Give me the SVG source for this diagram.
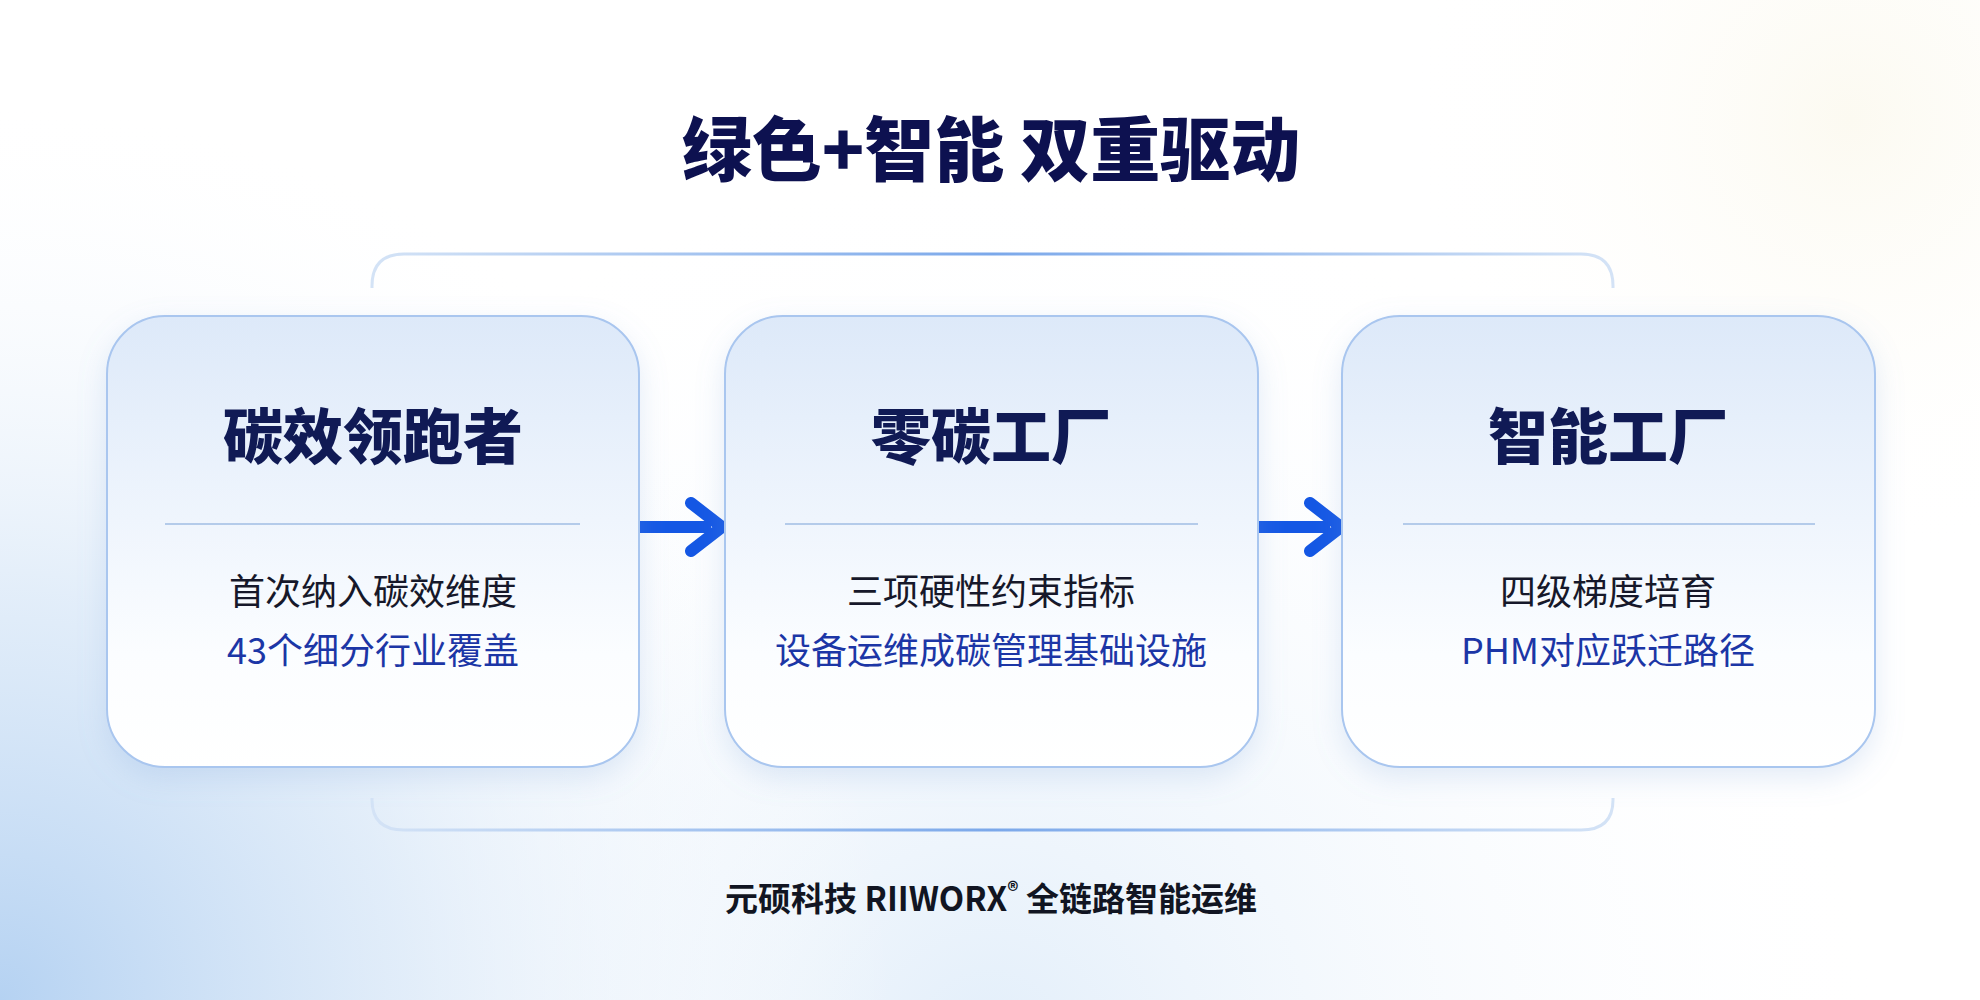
<svg xmlns="http://www.w3.org/2000/svg" width="1980" height="1000" viewBox="0 0 1980 1000">
  <defs>
    <radialGradient id="bgBlue" cx="0" cy="1000" r="900" gradientUnits="userSpaceOnUse">
      <stop offset="0" stop-color="#b5d2f2"/>
      <stop offset="0.45" stop-color="#dbe9f8" stop-opacity="0.8"/>
      <stop offset="1" stop-color="#ffffff" stop-opacity="0"/>
    </radialGradient>
    <radialGradient id="bgBlue2" cx="990" cy="1050" r="900" gradientUnits="userSpaceOnUse">
      <stop offset="0" stop-color="#e2eefa"/>
      <stop offset="1" stop-color="#ffffff" stop-opacity="0"/>
    </radialGradient>
    <radialGradient id="bgWarm" cx="1850" cy="120" r="450" gradientUnits="userSpaceOnUse">
      <stop offset="0" stop-color="#fcfaf1"/>
      <stop offset="1" stop-color="#ffffff" stop-opacity="0"/>
    </radialGradient>
    <linearGradient id="cardFill" x1="0" y1="0" x2="0" y2="1">
      <stop offset="0" stop-color="#dde9f9"/>
      <stop offset="0.45" stop-color="#eff5fd"/>
      <stop offset="0.75" stop-color="#fbfdff"/>
      <stop offset="1" stop-color="#ffffff"/>
    </linearGradient>
    <linearGradient id="bracketStroke" x1="372" y1="0" x2="1613" y2="0" gradientUnits="userSpaceOnUse">
      <stop offset="0" stop-color="#d4e3f6"/>
      <stop offset="0.5" stop-color="#7ba8ea"/>
      <stop offset="1" stop-color="#d4e3f6"/>
    </linearGradient>
    <filter id="cardShadow" x="-10%" y="-10%" width="120%" height="125%">
      <feDropShadow dx="0" dy="10" stdDeviation="14" flood-color="#7fa6da" flood-opacity="0.22"/>
    </filter>
    <style>
      .card { fill: url(#cardFill); stroke: #a9c6ef; stroke-width: 2; filter: url(#cardShadow); }
      .divider { stroke: #b4cbea; stroke-width: 2; }
      .title { font-family: "Noto Sans CJK SC", "Noto Sans", sans-serif; font-weight: 900; fill: #0d1150; text-anchor: middle; }
      .ctitle { font-family: "Noto Sans CJK SC", "Noto Sans", sans-serif; font-weight: 900; font-size: 60px; fill: #101a55; text-anchor: middle; }
      .sub1 { font-family: "Noto Sans CJK SC", "Noto Sans", sans-serif; font-weight: 400; font-size: 36px; fill: #16182a; text-anchor: middle; }
      .sub2 { font-family: "Noto Sans CJK SC", "Noto Sans", sans-serif; font-weight: 400; font-size: 36px; fill: #1c36a6; text-anchor: middle; }
      .footer { font-family: "Noto Sans CJK SC", "Noto Sans", sans-serif; font-weight: 700; font-size: 33px; fill: #111522; text-anchor: middle; }
      .bracket { fill: none; stroke: url(#bracketStroke); stroke-width: 3; }
      .arrow { fill: none; stroke: #1457e4; stroke-width: 12; stroke-linecap: round; stroke-linejoin: round; }
      .shaft { fill: #1457e4; }
    </style>
  </defs>

  <rect width="1980" height="1000" fill="#ffffff"/>
  <rect width="1980" height="1000" fill="url(#bgBlue2)"/>
  <rect width="1980" height="1000" fill="url(#bgBlue)"/>
  <rect width="1980" height="1000" fill="url(#bgWarm)"/>

  <g id="title">
    <text class="title" x="991" y="176" font-size="70">绿色+智能 双重驱动</text>
  </g>

  <g id="connectors">
    <path class="bracket" d="M372 288 L372 286 Q372 254 404 254 L1581 254 Q1613 254 1613 286 L1613 288"/>
    <path class="bracket" d="M372 798 L372 800 Q372 830 404 830 L1581 830 Q1613 830 1613 800 L1613 798"/>
    <rect class="shaft" x="639" y="521" width="72" height="12"/>
    <polyline class="arrow" points="691,503 722,527 691,551"/>
    <rect class="shaft" x="1258" y="521" width="72" height="12"/>
    <polyline class="arrow" points="1310,503 1341,527 1310,551"/>
  </g>

  <g id="card1">
    <rect class="card" x="107" y="316" width="532" height="451" rx="58"/>
    <text class="ctitle" x="373" y="459">碳效领跑者</text>
    <line class="divider" x1="165" y1="524" x2="580" y2="524"/>
    <text class="sub1" x="373" y="605">首次纳入碳效维度</text>
    <text class="sub2" x="373" y="664">43个细分行业覆盖</text>
  </g>

  <g id="card2">
    <rect class="card" x="725" y="316" width="533" height="451" rx="58"/>
    <text class="ctitle" x="991" y="459">零碳工厂</text>
    <line class="divider" x1="785" y1="524" x2="1198" y2="524"/>
    <text class="sub1" x="991" y="605">三项硬性约束指标</text>
    <text class="sub2" x="991" y="664">设备运维成碳管理基础设施</text>
  </g>

  <g id="card3">
    <rect class="card" x="1342" y="316" width="533" height="451" rx="58"/>
    <text class="ctitle" x="1608" y="459">智能工厂</text>
    <line class="divider" x1="1403" y1="524" x2="1815" y2="524"/>
    <text class="sub1" x="1608" y="605">四级梯度培育</text>
    <text class="sub2" x="1608" y="664">PHM对应跃迁路径</text>
  </g>

  <g id="footer">
    <text class="footer" x="991" y="911">元硕科技 RIIWORX<tspan font-size="22" dy="-12">®</tspan><tspan dy="12"> 全链路智能运维</tspan></text>
  </g>
</svg>
